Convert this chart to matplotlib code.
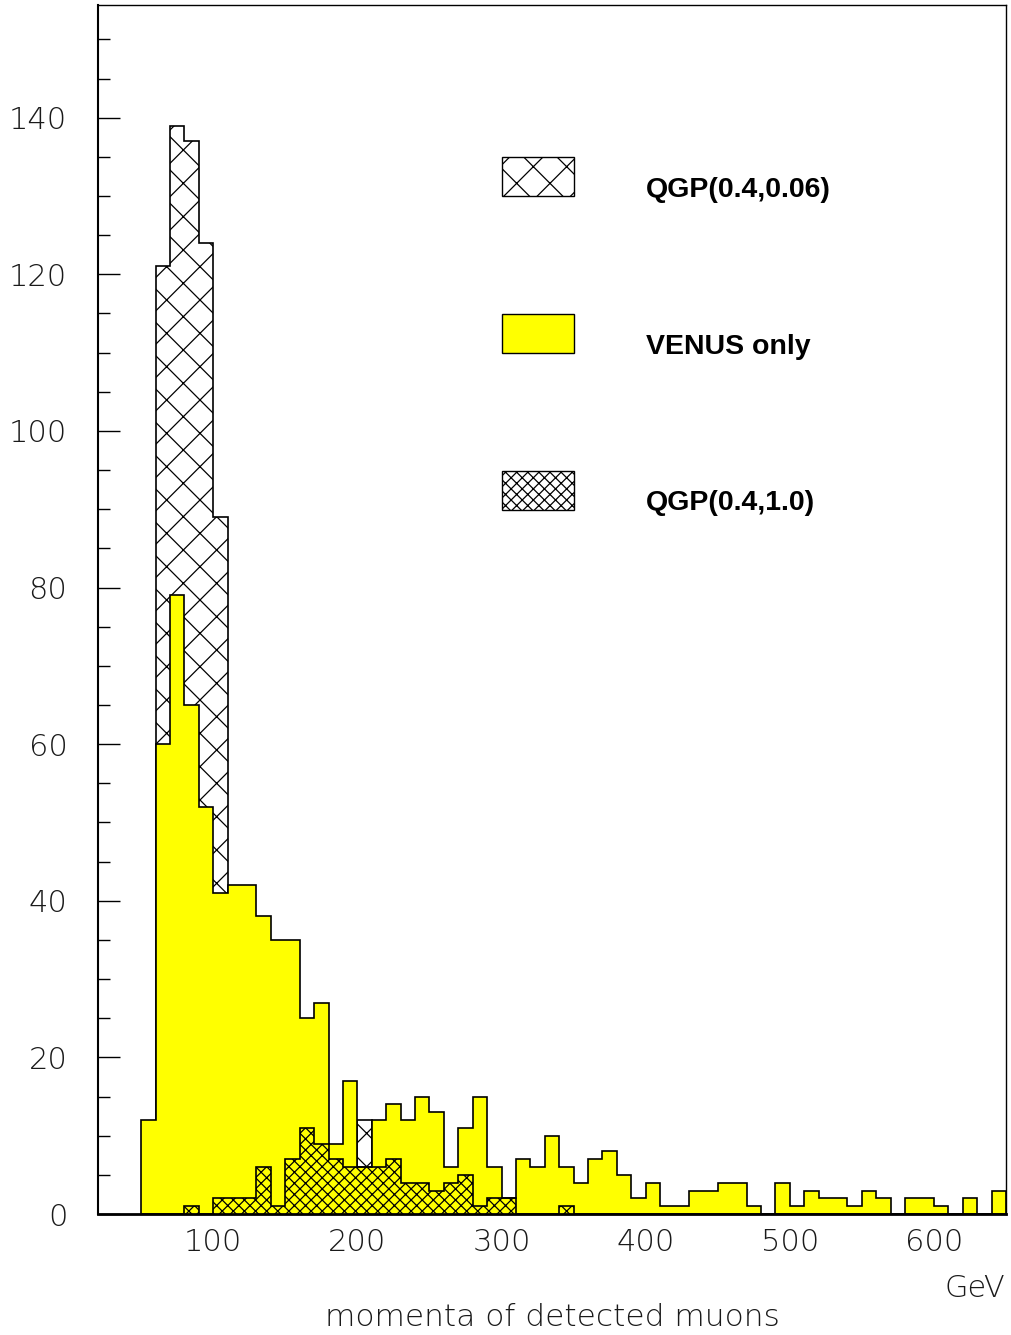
import matplotlib.pyplot as plt
from matplotlib.patches import Rectangle
import numpy as np

# 10 GeV bins from 50 to 650 GeV
edges = np.arange(50, 660, 10)

venus = [12, 60, 79, 65, 52, 41, 42, 42, 38, 35,
         35, 25, 27, 9, 17, 6, 12, 14, 12, 15,
         13, 6, 11, 15, 6, 2, 7, 6, 10, 6,
         4, 7, 8, 5, 2, 4, 1, 1, 3, 3,
         4, 4, 1, 0, 4, 1, 3, 2, 2, 1,
         3, 2, 0, 2, 2, 1, 0, 2, 0, 3]

# only the bins that stick out above VENUS can be read, the rest is hidden
qgp_006 = [0, 121, 139, 137, 124, 89, 0, 0, 0, 0,
           0, 0, 0, 0, 0, 12, 0, 0, 0, 0,
           0, 0, 0, 0, 0, 0, 0, 0, 0, 0,
           0, 0, 0, 0, 0, 0, 0, 0, 0, 0,
           0, 0, 0, 0, 0, 0, 0, 0, 0, 0,
           0, 0, 0, 0, 0, 0, 0, 0, 0, 0]

qgp_10 = [0, 0, 0, 1, 0, 2, 2, 2, 6, 1,
          7, 11, 9, 7, 6, 6, 6, 7, 4, 4,
          3, 4, 5, 1, 2, 2, 0, 0, 0, 1,
          0, 0, 0, 0, 0, 0, 0, 0, 0, 0,
          0, 0, 0, 0, 0, 0, 0, 0, 0, 0,
          0, 0, 0, 0, 0, 0, 0, 0, 0, 0]

legend_labels = ['QGP(0.4,0.06)', 'VENUS only', 'QGP(0.4,1.0)']

plt.rcParams['hatch.linewidth'] = 0.9
thin = dict(family='DejaVu Sans', weight=200, color='#1a1a1a')

fig = plt.figure(figsize=(10.12, 13.35), dpi=100)
ax = fig.add_axes([0.0968, 0.0906, 0.8972, 0.9057])

ax.stairs(qgp_006, edges, fill=True, facecolor='white', edgecolor='black',
          hatch='x', lw=1.2, zorder=1)
ax.stairs(venus, edges, fill=True, facecolor='#ffff00', edgecolor='black',
          lw=1.2, zorder=2)
ax.stairs(qgp_10, edges, fill=True, facecolor='none', edgecolor='black',
          hatch='xxx', lw=1.2, zorder=3)

ax.set_xlim(20, 650)
ax.set_ylim(0, 154.4)

ax.set_xticks([100, 200, 300, 400, 500, 600])
ax.set_yticks(np.arange(0, 141, 20))
ax.set_yticks(np.arange(0, 155, 5), minor=True)
ax.tick_params(axis='y', which='major', direction='in', length=15.8, width=1.0, pad=22)
ax.tick_params(axis='y', which='minor', direction='in', length=8.6, width=1.0)
ax.tick_params(axis='x', which='both', length=0, pad=10)
for lab in ax.get_xticklabels() + ax.get_yticklabels():
    lab.set_fontfamily('DejaVu Sans')
    lab.set_fontweight(200)
    lab.set_color('#1a1a1a')
    lab.set_fontsize(22)

for s in ax.spines.values():
    s.set_linewidth(1.0)
ax.spines['left'].set_linewidth(1.5)
ax.spines['bottom'].set_linewidth(2.0)

fig.text(0.993, 1 - 1297 / 1335, 'GeV', ha='right', va='baseline', fontsize=22, **thin)
fig.text(0.5454, 1 - 1326 / 1335, 'momenta of detected muons', ha='center',
         va='baseline', fontsize=22.5, **thin)

# legend boxes drawn by hand, in axes fractions
box_y = [0.842, 0.7124, 0.5826]
text_y = [0.8471, 0.7173, 0.5884]
styles = [dict(facecolor='white', hatch='x'),
          dict(facecolor='#ffff00', hatch=None),
          dict(facecolor='white', hatch='xxx')]
for by, ty, lab, st in zip(box_y, text_y, legend_labels, styles):
    ax.add_patch(Rectangle((0.445, by), 0.0793, 0.0322, transform=ax.transAxes,
                           edgecolor='black', lw=1.0, **st))
    ax.text(0.6035, ty, lab, transform=ax.transAxes, ha='left', va='center',
            fontsize=20.5, fontweight='bold', family='Liberation Sans')

fig.savefig('out.png', dpi=100)
